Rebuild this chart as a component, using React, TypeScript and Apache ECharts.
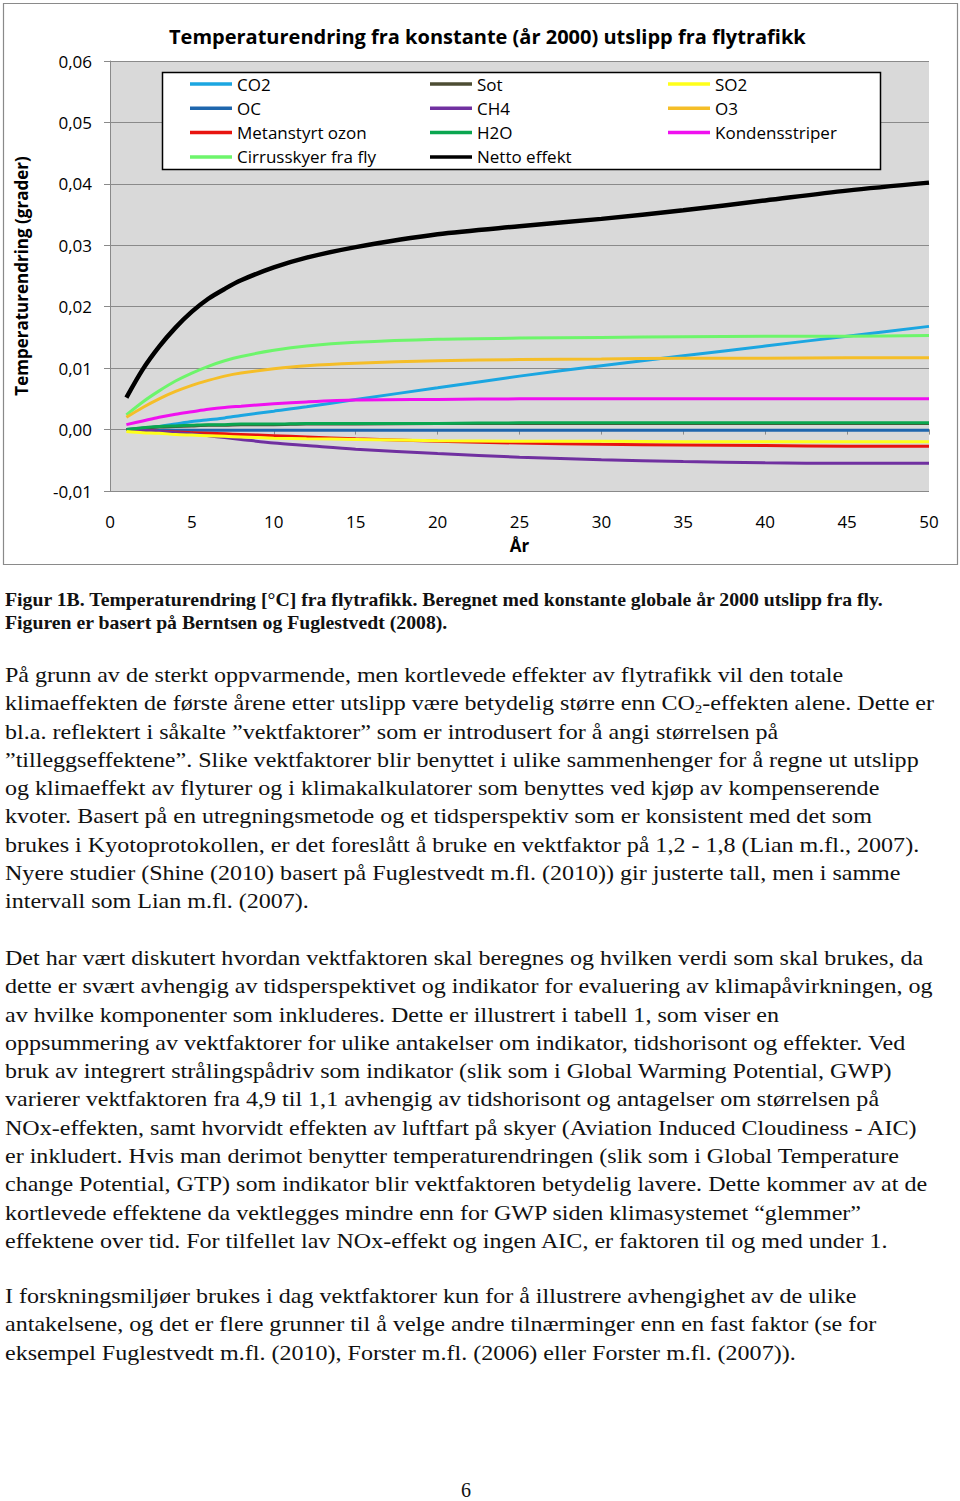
import React, { useEffect, useRef } from "react";
import * as echarts from "echarts";

const years = [1, 2, 3, 4, 5, 6, 7, 8, 10, 12, 15, 20, 25, 30, 35, 40, 45, 50];

const co2 = [0, 0.0002, 0.0005, 0.0009, 0.0013, 0.0016, 0.0019, 0.0023, 0.003, 0.0037, 0.0049, 0.0068, 0.0087, 0.0104, 0.012, 0.0136, 0.0152, 0.0168];
const oc = [0, 0, -0.0001, -0.0001, -0.0001, -0.0001, -0.0001, -0.0001, -0.0001, -0.0001, -0.0001, -0.0001, -0.0001, -0.0001, -0.0001, -0.0001, -0.0001, -0.0001];
const metanOzon = [0, -0.0001, -0.0003, -0.0004, -0.0005, -0.0006, -0.0007, -0.0008, -0.001, -0.0012, -0.0015, -0.0019, -0.0022, -0.0024, -0.0025, -0.0026, -0.0027, -0.0027];
const cirrus = [0.0024, 0.0045, 0.0063, 0.0079, 0.0092, 0.0103, 0.0112, 0.0119, 0.0129, 0.0136, 0.0142, 0.0147, 0.0149, 0.015, 0.0151, 0.0152, 0.0152, 0.0153];
const sot = [0, 0.0002, 0.0004, 0.0005, 0.0006, 0.0007, 0.0007, 0.0008, 0.0008, 0.0009, 0.0009, 0.001, 0.001, 0.001, 0.001, 0.001, 0.001, 0.001];
const ch4 = [0, -0.0001, -0.0003, -0.0005, -0.0007, -0.001, -0.0013, -0.0016, -0.0022, -0.0026, -0.0032, -0.0039, -0.0045, -0.0049, -0.0052, -0.0054, -0.0055, -0.0055];
const h2o = [0, 0.0003, 0.0005, 0.0006, 0.0007, 0.0008, 0.0008, 0.0009, 0.0009, 0.001, 0.001, 0.001, 0.0011, 0.0011, 0.0011, 0.0011, 0.0011, 0.0011];
const netto = [0.0052, 0.0098, 0.0135, 0.0166, 0.0192, 0.0213, 0.0229, 0.0243, 0.0264, 0.028, 0.0297, 0.0318, 0.0331, 0.0343, 0.0357, 0.0373, 0.0389, 0.0402];
const so2 = [-0.0003, -0.0005, -0.0006, -0.0008, -0.0009, -0.001, -0.0011, -0.0012, -0.0014, -0.0015, -0.0016, -0.0018, -0.0019, -0.0019, -0.002, -0.002, -0.002, -0.002];
const o3 = [0.002, 0.0036, 0.005, 0.0062, 0.0072, 0.008, 0.0087, 0.0092, 0.0099, 0.0104, 0.0108, 0.0112, 0.0114, 0.0115, 0.0116, 0.0116, 0.0117, 0.0117];
const kondens = [0.0008, 0.0014, 0.002, 0.0025, 0.0029, 0.0033, 0.0036, 0.0038, 0.0042, 0.0045, 0.0048, 0.0049, 0.005, 0.005, 0.005, 0.005, 0.005, 0.005];

const seriesNames = ["CO2", "OC", "Metanstyrt ozon", "Cirrusskyer fra fly", "Sot", "CH4", "H2O", "Netto effekt", "SO2", "O3", "Kondensstriper"];
const seriesValues = [co2, oc, metanOzon, cirrus, sot, ch4, h2o, netto, so2, o3, kondens];
const seriesColors = ["#1ba6e1", "#1f66ad", "#e8140f", "#6df56b", "#4d4d33", "#7030a0", "#0aa650", "#000000", "#ffff1a", "#f5be28", "#f010f0"];

const legendCols = [
  ["CO2", "OC", "Metanstyrt ozon", "Cirrusskyer fra fly"],
  ["Sot", "CH4", "H2O", "Netto effekt"],
  ["SO2", "O3", "Kondensstriper"],
];

const titleText = "Temperaturendring fra konstante (år 2000) utslipp fra flytrafikk";
const yName = "Temperaturendring (grader)";
const xName = "År";

const captionLines = [
  "Figur 1B. Temperaturendring [°C] fra flytrafikk. Beregnet med konstante globale år 2000 utslipp fra fly.",
  "Figuren er basert på Berntsen og Fuglestvedt (2008).",
];

const para1 = [
  "På grunn av de sterkt oppvarmende, men kortlevede effekter av flytrafikk vil den totale",
  "__CO2__",
  "bl.a. reflektert i såkalte ”vektfaktorer” som er introdusert for å angi størrelsen på",
  "”tilleggseffektene”. Slike vektfaktorer blir benyttet i ulike sammenhenger for å regne ut utslipp",
  "og klimaeffekt av flyturer og i klimakalkulatorer som benyttes ved kjøp av kompenserende",
  "kvoter. Basert på en utregningsmetode og et tidsperspektiv som er konsistent med det som",
  "brukes i Kyotoprotokollen, er det foreslått å bruke en vektfaktor på 1,2 - 1,8 (Lian m.fl., 2007).",
  "Nyere studier (Shine (2010) basert på Fuglestvedt m.fl. (2010)) gir justerte tall, men i samme",
  "intervall som Lian m.fl. (2007).",
];

const para2 = [
  "Det har vært diskutert hvordan vektfaktoren skal beregnes og hvilken verdi som skal brukes, da",
  "dette er svært avhengig av tidsperspektivet og indikator for evaluering av klimapåvirkningen, og",
  "av hvilke komponenter som inkluderes. Dette er illustrert i tabell 1, som viser en",
  "oppsummering av vektfaktorer for ulike antakelser om indikator, tidshorisont og effekter. Ved",
  "bruk av integrert strålingspådriv som indikator (slik som i Global Warming Potential, GWP)",
  "varierer vektfaktoren fra 4,9 til 1,1 avhengig av tidshorisont og antagelser om størrelsen på",
  "NOx-effekten, samt hvorvidt effekten av luftfart på skyer (Aviation Induced Cloudiness - AIC)",
  "er inkludert. Hvis man derimot benytter temperaturendringen (slik som i Global Temperature",
  "change Potential, GTP) som indikator blir vektfaktoren betydelig lavere. Dette kommer av at de",
  "kortlevede effektene da vektlegges mindre enn for GWP siden klimasystemet “glemmer”",
  "effektene over tid. For tilfellet lav NOx-effekt og ingen AIC, er faktoren til og med under 1.",
];

const para3 = [
  "I forskningsmiljøer brukes i dag vektfaktorer kun for å illustrere avhengighet av de ulike",
  "antakelsene, og det er flere grunner til å velge andre tilnærminger enn en fast faktor (se for",
  "eksempel Fuglestvedt m.fl. (2010), Forster m.fl. (2006) eller Forster m.fl. (2007)).",
];

const pageNumber = "6";

const fmt = (v: number) => v.toFixed(2).replace(".", ",");

function Chart() {
  const ref = useRef<HTMLDivElement>(null);
  useEffect(() => {
    if (!ref.current) return;
    const chart = echarts.init(ref.current, null, { renderer: "svg" });
    const font = "'Open Sans', Lato, sans-serif";
    const gray = "#8a8a8a";
    const series = seriesNames.map((name, i) => ({
      name,
      type: "line",
      xAxisIndex: 0,
      yAxisIndex: 0,
      data: years.map((y, j) => [y, seriesValues[i][j]]),
      showSymbol: false,
      symbol: "none",
      smooth: 0.3,
      lineStyle: { color: seriesColors[i], width: name === "Netto effekt" ? 4.5 : 3 },
      itemStyle: { color: seriesColors[i] },
      z: 2 + i,
    }));
    const legendLefts = [190, 430, 668];
    const legends = legendCols.map((cols, k) => ({
      data: cols,
      orient: "vertical",
      left: legendLefts[k],
      top: 74,
      padding: 0,
      itemGap: 4.3,
      icon: "rect",
      itemWidth: 42,
      itemHeight: 3.5,
      selectedMode: false,
      z: 10,
      textStyle: { fontFamily: font, fontSize: 17, color: "#000", lineHeight: 20 },
    }));
    chart.setOption({
      animation: false,
      backgroundColor: "#ffffff",
      title: {
        text: titleText,
        left: 164,
        top: 21,
        textStyle: { fontFamily: font, fontSize: 20, fontWeight: "bold", color: "#000" },
      },
      legend: legends,
      graphic: [
        {
          type: "rect",
          z: 0,
          silent: true,
          shape: { x: 3.5, y: 3.5, width: 954, height: 561 },
          style: { fill: "none", stroke: gray, lineWidth: 1.2 },
        },
        {
          type: "rect",
          z: 9,
          silent: true,
          shape: { x: 162.5, y: 72.5, width: 718, height: 97 },
          style: { fill: "#ffffff", stroke: "#000", lineWidth: 1.5 },
        },
      ],
      grid: {
        left: 110,
        right: 31,
        top: 61,
        bottom: 79,
        show: true,
        backgroundColor: "#d9d9d9",
        borderWidth: 0,
      },
      xAxis: [
        {
          type: "value",
          min: 0,
          max: 50,
          interval: 5,
          position: "bottom",
          axisLine: { show: true, onZero: true, lineStyle: { color: gray, width: 1 } },
          axisTick: { show: true, length: 5, inside: false, lineStyle: { color: gray } },
          axisLabel: { show: false },
          splitLine: { show: false },
          z: 1,
        },
        {
          type: "value",
          min: 0,
          max: 50,
          interval: 5,
          position: "bottom",
          axisLine: { show: false, onZero: false },
          axisTick: { show: false },
          splitLine: { show: false },
          axisLabel: { show: true, fontFamily: font, fontSize: 17, color: "#000", margin: 22 },
          name: xName,
          nameLocation: "middle",
          nameGap: 46,
          nameTextStyle: { fontFamily: font, fontSize: 17, fontWeight: "bold", color: "#000" },
        },
      ],
      yAxis: {
        type: "value",
        min: -0.01,
        max: 0.06,
        interval: 0.01,
        axisLine: { show: true, lineStyle: { color: gray, width: 1 } },
        axisTick: { show: true, length: 6, inside: false, lineStyle: { color: gray } },
        splitLine: { show: true, lineStyle: { color: gray, width: 1 } },
        axisLabel: { fontFamily: font, fontSize: 17, color: "#000", margin: 18, formatter: fmt },
        name: yName,
        nameLocation: "middle",
        nameGap: 80,
        nameRotate: 90,
        nameTextStyle: { fontFamily: font, fontSize: 17, fontWeight: "bold", color: "#000" },
      },
      series,
    });
    return () => chart.dispose();
  }, []);
  return <div ref={ref} style={{ position: "absolute", left: 0, top: 0, width: 960, height: 570 }} />;
}

const bodyFont = "'Liberation Serif', 'Times New Roman', serif";

function Line({ text }: { text: string }) {
  if (text === "__CO2__") {
    return (
      <div style={{ whiteSpace: "nowrap" }}>
        klimaeffekten de første årene etter utslipp være betydelig større enn CO
        <sub style={{ fontSize: "0.6em", verticalAlign: "-0.25em", lineHeight: 0 }}>2</sub>
        -effekten alene. Dette er
      </div>
    );
  }
  return <div style={{ whiteSpace: "nowrap" }}>{text}</div>;
}

export default function App() {
  useEffect(() => {
    document.body.style.margin = "0";
  }, []);
  const bodyStyle: React.CSSProperties = {
    position: "absolute",
    left: 5,
    fontFamily: bodyFont,
    fontSize: 22,
    lineHeight: "28.3px",
    color: "#111",
    transformOrigin: "0 0",
    transform: "scaleX(1.093)",
  };
  return (
    <div style={{ position: "relative", width: 960, height: 1501, background: "#fff", overflow: "hidden" }}>
      <Chart />
      <div
        style={{
          position: "absolute",
          left: 5,
          top: 588,
          fontFamily: bodyFont,
          fontSize: 19,
          fontWeight: "bold",
          lineHeight: "23px",
          color: "#111",
          transformOrigin: "0 0",
          transform: "scaleX(1.039)",
        }}
      >
        {captionLines.map((t, i) => (
          <Line key={i} text={t} />
        ))}
      </div>
      <div style={{ ...bodyStyle, top: 661 }}>
        {para1.map((t, i) => (
          <Line key={i} text={t} />
        ))}
      </div>
      <div style={{ ...bodyStyle, top: 944 }}>
        {para2.map((t, i) => (
          <Line key={i} text={t} />
        ))}
      </div>
      <div style={{ ...bodyStyle, top: 1282 }}>
        {para3.map((t, i) => (
          <Line key={i} text={t} />
        ))}
      </div>
      <div
        style={{
          position: "absolute",
          left: 0,
          width: 932,
          top: 1479,
          textAlign: "center",
          fontFamily: bodyFont,
          fontSize: 20,
          color: "#111",
        }}
      >
        {pageNumber}
      </div>
    </div>
  );
}
